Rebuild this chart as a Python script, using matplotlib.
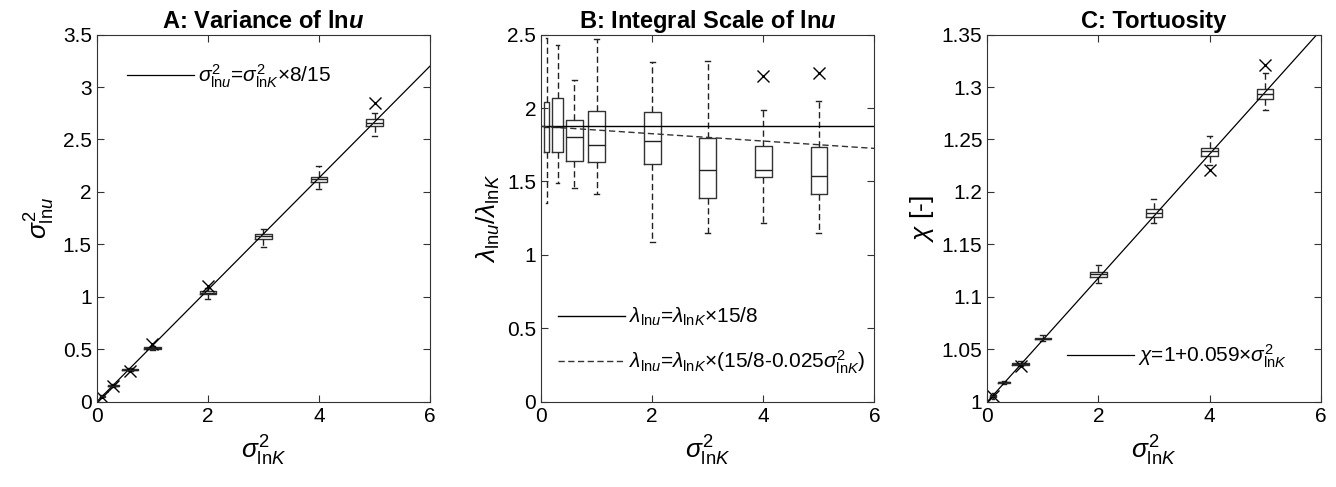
import numpy as np
import matplotlib
matplotlib.use("Agg")
import matplotlib.pyplot as plt
from matplotlib.ticker import FormatStrFormatter

plt.rcParams['font.family'] = ['Liberation Sans', 'DejaVu Sans']
plt.rcParams['font.size'] = 13
plt.rcParams['mathtext.fontset'] = 'custom'
plt.rcParams['mathtext.rm'] = 'Liberation Sans'
plt.rcParams['mathtext.it'] = 'Liberation Sans:italic'
plt.rcParams['mathtext.bf'] = 'Liberation Sans:bold'
plt.rcParams['mathtext.bfit'] = 'Liberation Sans:italic:bold'

# positions (sigma^2_lnK) and box widths
pos = [0.1, 0.3, 0.6, 1, 2, 3, 4, 5]
box_w = [0.1, 0.2, 0.3, 0.3, 0.3, 0.3, 0.3, 0.3]

# A: variance of ln u
med_a = [0.053, 0.155, 0.305, 0.51, 1.04, 1.58, 2.12, 2.66]
q1_a = [0.05, 0.15, 0.30, 0.50, 1.025, 1.555, 2.095, 2.625]
q3_a = [0.056, 0.16, 0.31, 0.52, 1.055, 1.60, 2.145, 2.695]
lo_a = [0.045, 0.145, 0.29, 0.49, 0.98, 1.48, 2.03, 2.53]
hi_a = [0.06, 0.165, 0.32, 0.535, 1.08, 1.645, 2.25, 2.75]
fl_a = [[0.045], [0.15], [0.29], [0.55], [1.105], [], [], [2.845]]

# B: integral scale ratio
med_b = [1.87, 1.87, 1.80, 1.75, 1.776, 1.58, 1.58, 1.534]
q1_b = [1.70, 1.70, 1.638, 1.63, 1.62, 1.384, 1.527, 1.413]
q3_b = [2.04, 2.07, 1.917, 1.98, 1.97, 1.797, 1.74, 1.733]
lo_b = [1.354, 1.49, 1.456, 1.418, 1.09, 1.146, 1.218, 1.15]
hi_b = [2.48, 2.43, 2.19, 2.47, 2.31, 2.32, 1.985, 2.05]
fl_b = [[], [], [], [], [], [], [2.216], [2.235]]

# C: tortuosity
med_c = [1.0055, 1.0185, 1.0362, 1.0603, 1.1216, 1.1804, 1.2388, 1.2935]
q1_c = [1.0045, 1.0178, 1.0352, 1.0595, 1.1193, 1.1765, 1.2343, 1.2886]
q3_c = [1.0065, 1.0192, 1.0372, 1.0612, 1.1238, 1.1842, 1.2423, 1.2985]
lo_c = [1.003, 1.017, 1.034, 1.058, 1.1134, 1.170, 1.226, 1.2785]
hi_c = [1.008, 1.020, 1.039, 1.064, 1.1302, 1.1937, 1.2531, 1.3135]
fl_c = [[1.0055], [], [1.034], [], [], [], [1.221], [1.3214]]

xlab = r'$\sigma^2_{\mathrm{ln}K}$'
dash = (0, (4.5, 2.5))


def make_stats(med, q1, q3, lo, hi, fl):
    return [dict(med=m, q1=a, q3=b, whislo=l, whishi=h, fliers=f)
            for m, a, b, l, h, f in zip(med, q1, q3, lo, hi, fl)]


def draw_box(ax, stats):
    ax.bxp(stats, positions=pos, widths=box_w,
           capwidths=[w * 0.3 for w in box_w],
           manage_ticks=False, showfliers=True,
           boxprops=dict(color='#333333', linewidth=1),
           medianprops=dict(color='#222222', linewidth=1),
           whiskerprops=dict(color='#222222', linewidth=1, linestyle=dash),
           capprops=dict(color='#222222', linewidth=1),
           flierprops=dict(marker='x', markeredgecolor='k', markersize=9,
                           markeredgewidth=1, linestyle='none'))


def style(ax):
    ax.set_xlim(0, 6)
    ax.set_xticks([0, 2, 4, 6])
    ax.tick_params(direction='in', top=True, right=True, length=5,
                   labelsize=15, color='#333333')
    for s in ax.spines.values():
        s.set_color('#333333')
    ax.yaxis.set_major_formatter(FormatStrFormatter('%g'))
    ax.set_xlabel(xlab, fontsize=19, labelpad=6)


fig = plt.figure(figsize=(13.36, 4.87), dpi=100)
axA = fig.add_axes([0.0724, 0.175, 0.2495, 0.754])
axB = fig.add_axes([0.405, 0.175, 0.2495, 0.754])
axC = fig.add_axes([0.739, 0.175, 0.2495, 0.754])

xs = np.array([0, 6])
leg_kw = dict(frameon=False, fontsize=15, handlelength=3.2, handletextpad=0.2)

# panel A
draw_box(axA, make_stats(med_a, q1_a, q3_a, lo_a, hi_a, fl_a))
axA.plot(xs, xs * 8 / 15, color='k', linewidth=0.9,
         label=r'$\sigma^2_{\mathrm{ln}u}$=$\sigma^2_{\mathrm{ln}K}$$\times$8/15')
axA.set_ylim(0, 3.5)
axA.set_yticks(np.arange(0, 3.51, 0.5))
style(axA)
axA.set_ylabel(r'$\sigma^2_{\mathrm{ln}u}$', fontsize=19)
axA.set_title(r'A: Variance of ln$\mathbfit{u}$', fontsize=17, fontweight='bold', pad=5)
axA.legend(loc='upper left', bbox_to_anchor=(0.035, 0.975), **leg_kw)

# panel B
draw_box(axB, make_stats(med_b, q1_b, q3_b, lo_b, hi_b, fl_b))
axB.plot(xs, [15 / 8, 15 / 8], color='k', linewidth=1,
         label=r'$\lambda_{\mathrm{ln}u}$=$\lambda_{\mathrm{ln}K}$$\times$15/8')
axB.plot(xs, 15 / 8 - 0.025 * xs, color='#333333', linewidth=1, linestyle=dash,
         label=r'$\lambda_{\mathrm{ln}u}$=$\lambda_{\mathrm{ln}K}$$\times$(15/8-0.025$\sigma^2_{\mathrm{ln}K}$)')
axB.set_ylim(0, 2.5)
axB.set_yticks(np.arange(0, 2.51, 0.5))
style(axB)
axB.set_ylabel(r'$\lambda_{\mathrm{ln}u}/\lambda_{\mathrm{ln}K}$', fontsize=19)
axB.set_title(r'B: Integral Scale of ln$\mathbfit{u}$', fontsize=17, fontweight='bold', pad=5)
axB.legend(loc='lower left', bbox_to_anchor=(-0.005, 0.02), labelspacing=0.95, **leg_kw)

# panel C
draw_box(axC, make_stats(med_c, q1_c, q3_c, lo_c, hi_c, fl_c))
axC.plot(xs, 1 + 0.059 * xs, color='k', linewidth=0.9,
         label=r'$\chi$=1+0.059$\times$$\sigma^2_{\mathrm{ln}K}$')
axC.set_ylim(1, 1.35)
axC.set_yticks(np.arange(1, 1.351, 0.05))
style(axC)
axC.set_ylabel(r'$\chi$ [-]', fontsize=19)
axC.set_title('C: Tortuosity', fontsize=17, fontweight='bold', pad=5)
axC.legend(loc='lower right', bbox_to_anchor=(0.955, 0.035), **leg_kw)

fig.savefig('out.png', dpi=100)
